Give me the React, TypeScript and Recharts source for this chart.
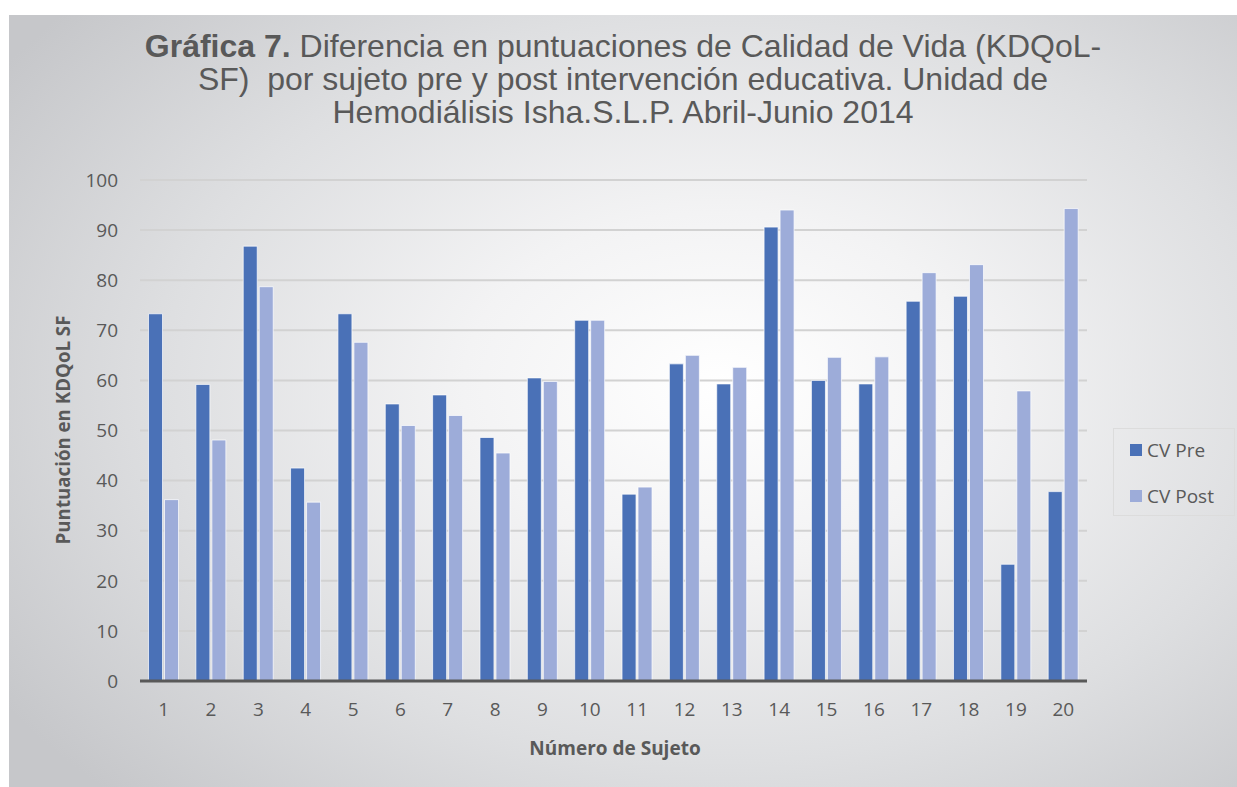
import { BarChart, Bar, XAxis, YAxis, CartesianGrid, Legend } from 'recharts';

const subjects = ['1', '2', '3', '4', '5', '6', '7', '8', '9', '10', '11', '12', '13', '14', '15', '16', '17', '18', '19', '20'];
const cvPre = [73.3, 59.2, 86.8, 42.5, 73.3, 55.3, 57.1, 48.6, 60.5, 72.0, 37.3, 63.3, 59.3, 90.6, 60.0, 59.3, 75.8, 76.8, 23.3, 37.8];
const cvPost = [36.2, 48.1, 78.7, 35.7, 67.6, 51.0, 53.0, 45.5, 59.8, 72.0, 38.7, 65.0, 62.6, 94.0, 64.6, 64.7, 81.5, 83.1, 57.9, 94.3];
const seriesNames = ['CV Pre', 'CV Post'];
const yTicks = [0, 10, 20, 30, 40, 50, 60, 70, 80, 90, 100];

const data = subjects.map((s, i) => ({ subject: s, pre: cvPre[i], post: cvPost[i] }));

const W = 1228;
const H = 772;
const GRAY = '#595959';
const PRE = '#4a71b7';
const POST = '#9dacd9';
const calibri = '"Open Sans", "Noto Sans", sans-serif';

const titleLines = [
  ['Gráfica 7.', ' Diferencia en puntuaciones de Calidad de Vida (KDQoL-'],
  ['', 'SF)  por sujeto pre y post intervención educativa. Unidad de'],
  ['', 'Hemodiálisis Isha.S.L.P. Abril-Junio 2014'],
];

const LegendBox = (props: any) => {
  const items = [...(props.payload || [])].sort(
    (a: any, b: any) => seriesNames.indexOf(a.value) - seriesNames.indexOf(b.value)
  );
  return (
    <div
      style={{
        border: '1px solid #dcdcdc',
        width: 122,
        height: 88,
        boxSizing: 'border-box',
        paddingTop: 2,
        fontFamily: calibri,
        fontSize: 19,
        color: GRAY,
      }}
    >
      {items.map((it: any) => (
        <div key={it.value} style={{ display: 'flex', alignItems: 'center', height: 38, marginBottom: 8 }}>
          <span style={{ width: 12, height: 12, background: it.color, marginLeft: 16, marginRight: 5, display: 'inline-block' }} />
          <span>{it.value}</span>
        </div>
      ))}
    </div>
  );
};

export default function App() {
  return (
    <div
      style={{
        position: 'absolute',
        left: 9,
        top: 15,
        width: W,
        height: H,
        background: 'radial-gradient(ellipse 70% 75% at 58% 48%, #ffffff 0%, #f3f3f4 30%, #dedfe1 65%, #c6c7ca 100%)',
        overflow: 'hidden',
      }}
    >
      <div
        style={{
          position: 'absolute',
          left: 0,
          top: 15,
          width: W,
          textAlign: 'center',
          fontFamily: '"Liberation Sans", Arial, sans-serif',
          fontSize: 32,
          lineHeight: '33px',
          color: GRAY,
        }}
      >
        {titleLines.map((l, i) => (
          <div key={i} style={{ whiteSpace: 'pre' }}>
            {l[0] && <b>{l[0]}</b>}
            {l[1]}
          </div>
        ))}
      </div>

      <BarChart
        width={W}
        height={H}
        data={data}
        margin={{ top: 165, right: 28, bottom: 76, left: 51 }}
        barCategoryGap="18%"
        barGap={2}
      >
        <CartesianGrid vertical={false} stroke="#d2d2d2" strokeWidth={2} />
        <XAxis
          dataKey="subject"
          axisLine={{ stroke: GRAY, strokeWidth: 3 }}
          tickLine={false}
          tickSize={0}
          tickMargin={22}
          tick={{ fill: GRAY, fontSize: 19, fontFamily: calibri }}
          interval={0}
        />
        <YAxis
          domain={[0, 100]}
          ticks={yTicks}
          width={80}
          axisLine={false}
          tickLine={false}
          tickSize={0}
          tickMargin={22}
          tick={{ fill: GRAY, fontSize: 19, fontFamily: calibri }}
        />
        <Legend
          layout="vertical"
          align="right"
          verticalAlign="middle"
          content={<LegendBox />}
          wrapperStyle={{ position: 'absolute', left: 1104, top: 413, width: 122 }}
        />
        <Bar dataKey="pre" name="CV Pre" fill={PRE} stroke="#ffffff" strokeOpacity={0.7} strokeWidth={1} isAnimationActive={false} />
        <Bar dataKey="post" name="CV Post" fill={POST} stroke="#ffffff" strokeOpacity={0.7} strokeWidth={1} isAnimationActive={false} />
      </BarChart>

      <div
        style={{
          position: 'absolute',
          left: 53,
          top: 415,
          transform: 'translate(-50%, -50%) rotate(-90deg)',
          whiteSpace: 'nowrap',
          fontFamily: calibri,
          fontWeight: 700,
          fontSize: 18.7,
          color: GRAY,
        }}
      >
        Puntuación en KDQoL SF
      </div>
      <div
        style={{
          position: 'absolute',
          left: 606,
          top: 733,
          transform: 'translate(-50%, -50%)',
          whiteSpace: 'nowrap',
          fontFamily: calibri,
          fontWeight: 700,
          fontSize: 19,
          color: GRAY,
        }}
      >
        Número de Sujeto
      </div>
    </div>
  );
}
